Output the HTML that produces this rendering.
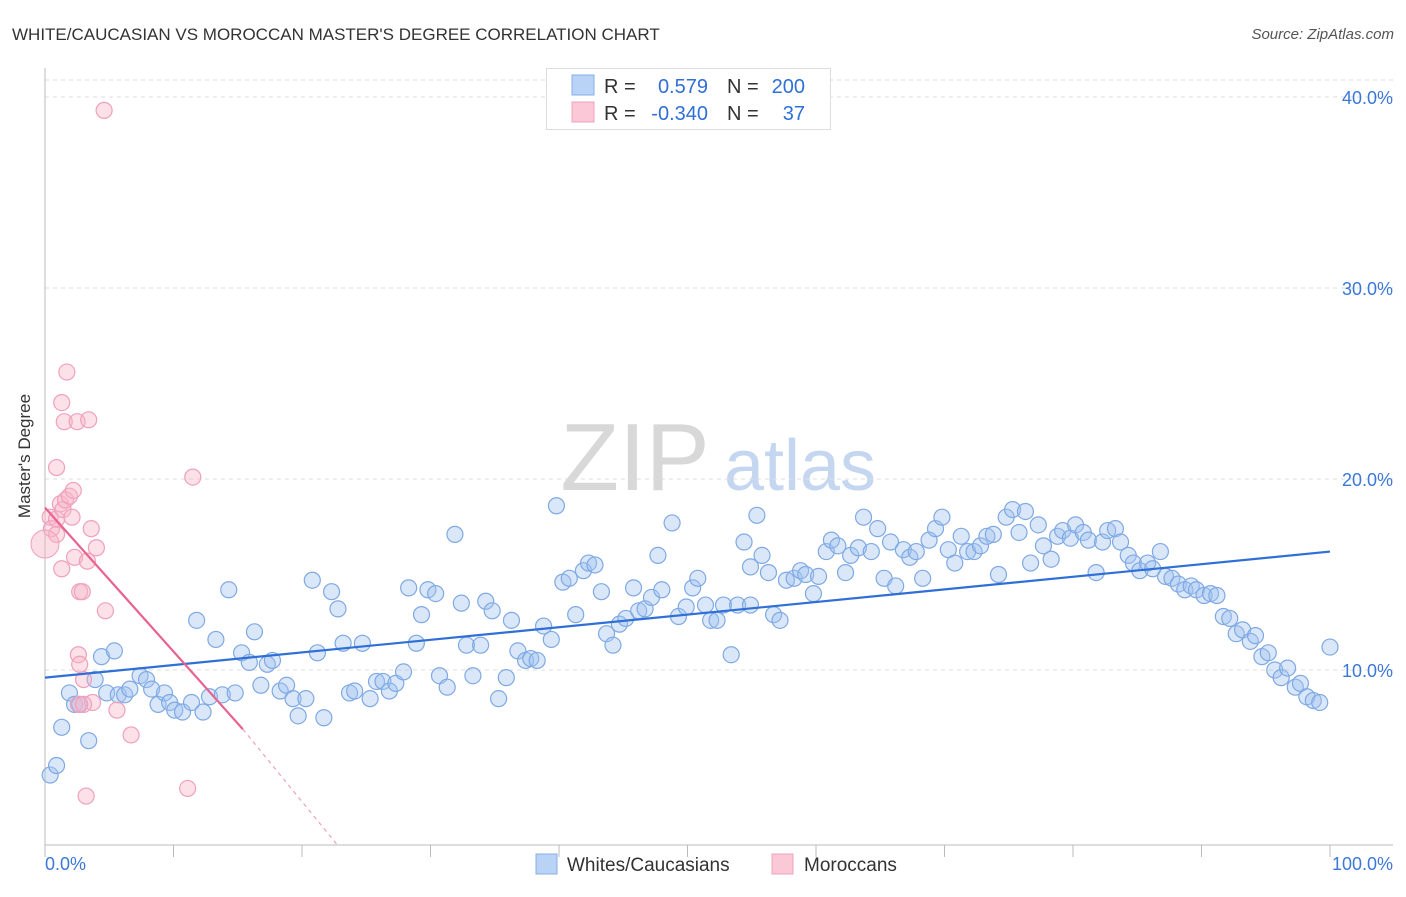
<!DOCTYPE html>
<html><head><meta charset="utf-8"><style>
body{margin:0;background:#fff;font-family:"Liberation Sans",sans-serif;}
svg text{font-family:"Liberation Sans",sans-serif;}
</style></head><body>
<svg id="chart" width="1406" height="892" viewBox="0 0 1406 892" xmlns="http://www.w3.org/2000/svg">
<text x="12" y="40" font-size="17" fill="#333">WHITE/CAUCASIAN VS MOROCCAN MASTER'S DEGREE CORRELATION CHART</text>
<text x="1394" y="39" font-size="15" fill="#555" text-anchor="end" font-style="italic">Source: ZipAtlas.com</text>
<text x="30" y="456" font-size="17" fill="#333" text-anchor="middle" transform="rotate(-90 30 456)">Master's Degree</text>
<g><text x="635" y="490" font-size="96" fill="#d8d8d8" font-family="Liberation Serif" text-anchor="middle">ZIP</text><text x="800" y="490" font-size="72" fill="#c5d7f0" text-anchor="middle">atlas</text></g>
<g id="grid"></g><g id="axes"></g><g id="pts"></g><g id="lines"></g>
<g>
<rect x="546.5" y="68.5" width="284" height="61" fill="#fff" stroke="#ddd"/>
<rect x="572" y="75" width="22" height="20" fill="#b8d3f5" stroke="#88aee6"/>
<rect x="572" y="102" width="22" height="20" fill="#fbc8d7" stroke="#f0a0bb"/>
<text x="604" y="93" font-size="20" fill="#333">R =</text><text x="708" y="93" font-size="20" fill="#2f6fd6" text-anchor="end">0.579</text>
<text x="727" y="93" font-size="20" fill="#333">N =</text><text x="805" y="93" font-size="20" fill="#2f6fd6" text-anchor="end">200</text>
<text x="604" y="120" font-size="20" fill="#333">R =</text><text x="708" y="120" font-size="20" fill="#2f6fd6" text-anchor="end">-0.340</text>
<text x="727" y="120" font-size="20" fill="#333">N =</text><text x="805" y="120" font-size="20" fill="#2f6fd6" text-anchor="end">37</text>
</g>
<g>
<rect x="536" y="854" width="21" height="20" fill="#b8d3f5" stroke="#88aee6"/>
<text x="567" y="871" font-size="19" fill="#333">Whites/Caucasians</text>
<rect x="772" y="854" width="21" height="20" fill="#fbc8d7" stroke="#f0a0bb"/>
<text x="804" y="871" font-size="19" fill="#333">Moroccans</text>
</g>
</svg>
<script>
const yTicks=[10,20,30,40];
const xTickLabels=["0.0%","100.0%"];
const blueX=[0.4,0.9,1.3,1.9,2.3,2.7,3.4,3.9,4.4,4.8,5.4,5.7,6.2,6.6,7.4,7.9,8.3,8.8,9.3,9.7,10.1,10.7,11.4,11.8,12.3,12.8,13.3,13.8,14.3,14.8,15.3,15.9,16.3,16.8,17.3,17.7,18.3,18.8,19.3,19.7,20.3,20.8,21.2,21.7,22.3,22.8,23.2,23.7,24.1,24.7,25.3,25.8,26.3,26.8,27.3,27.9,28.3,28.9,29.3,29.8,30.4,30.7,31.3,31.9,32.4,32.8,33.3,33.9,34.3,34.8,35.3,35.9,36.3,36.8,37.4,37.8,38.3,38.8,39.4,39.8,40.3,40.8,41.3,41.9,42.3,42.8,43.3,43.7,44.2,44.7,45.2,45.8,46.2,46.7,47.2,47.7,48.0,48.8,49.3,49.9,50.4,50.8,51.4,51.8,52.3,52.8,53.4,53.9,54.4,54.9,54.9,55.4,55.8,56.3,56.7,57.2,57.7,58.3,58.8,59.2,59.8,60.2,60.8,61.2,61.7,62.3,62.7,63.3,63.7,64.3,64.8,65.3,65.8,66.2,66.8,67.3,67.8,68.3,68.8,69.3,69.8,70.3,70.8,71.3,71.8,72.3,72.8,73.3,73.8,74.2,74.8,75.3,75.8,76.3,76.7,77.3,77.7,78.3,78.8,79.2,79.8,80.2,80.8,81.2,81.8,82.3,82.7,83.3,83.7,84.3,84.7,85.2,85.8,86.2,86.8,87.2,87.7,88.2,88.7,89.2,89.6,90.2,90.7,91.2,91.7,92.2,92.7,93.2,93.8,94.2,94.7,95.2,95.7,96.2,96.7,97.3,97.7,98.2,98.7,99.2,100];
const blueY=[4.5,5.0,7.0,8.8,8.2,8.2,6.3,9.5,10.7,8.8,11.0,8.7,8.7,9.0,9.7,9.5,9.0,8.2,8.8,8.3,7.9,7.8,8.3,12.6,7.8,8.6,11.6,8.7,14.2,8.8,10.9,10.4,12.0,9.2,10.3,10.5,8.9,9.2,8.5,7.6,8.5,14.7,10.9,7.5,14.1,13.2,11.4,8.8,8.9,11.4,8.5,9.4,9.4,8.9,9.3,9.9,14.3,11.4,12.9,14.2,14.0,9.7,9.1,17.1,13.5,11.3,9.7,11.3,13.6,13.1,8.5,9.6,12.6,11.0,10.5,10.6,10.5,12.3,11.6,18.6,14.6,14.8,12.9,15.2,15.6,15.5,14.1,11.9,11.3,12.4,12.7,14.3,13.1,13.2,13.8,16.0,14.2,17.7,12.8,13.3,14.3,14.8,13.4,12.6,12.6,13.4,10.8,13.4,16.7,13.4,15.4,18.1,16.0,15.1,12.9,12.6,14.7,14.8,15.2,15.0,14.0,14.9,16.2,16.8,16.5,15.1,16.0,16.4,18.0,16.2,17.4,14.8,16.7,14.4,16.3,15.9,16.2,14.8,16.8,17.4,18.0,16.3,15.6,17.0,16.2,16.2,16.5,17.0,17.1,15.0,18.0,18.4,17.2,18.3,15.6,17.6,16.5,15.8,17.0,17.3,16.9,17.6,17.2,16.8,15.1,16.7,17.3,17.4,16.7,16.0,15.6,15.2,15.6,15.3,16.2,14.9,14.8,14.5,14.2,14.4,14.2,13.9,14.0,13.9,12.8,12.7,11.9,12.1,11.5,11.8,10.7,10.9,10.0,9.6,10.1,9.1,9.3,8.6,8.4,8.3,11.2];
const pinkX=[0.4,0.5,0.9,0.9,1.2,1.4,0.9,1.3,1.5,1.7,1.6,1.9,2.2,2.1,2.3,2.5,2.7,2.6,2.9,3.0,3.3,3.4,3.6,3.7,4.0,4.7,2.6,2.7,5.6,6.7,3.2,11.1,11.5,4.6,1.3,3.0];
const pinkY=[18.0,17.4,17.1,17.9,18.7,18.4,20.6,24.0,23.0,25.6,18.9,19.1,19.4,18.0,15.9,23.0,14.1,8.2,14.1,9.5,15.7,23.1,17.4,8.3,16.4,13.1,10.8,10.3,7.9,6.6,3.4,3.8,20.1,39.3,15.3,8.2];
const pinkBig=[0,16.6];
const blueTrendX=[0,100], blueTrendY=[9.6,16.2];
const pinkTrendX=[0,15.4], pinkTrendY=[18.5,6.9];
const pinkDashX=[15.4,22.8], pinkDashY=[6.9,0.8];
const X=v=>45+v*12.85, Y=v=>861-v*19.1;
const NS="http://www.w3.org/2000/svg";
function mk(tag,parent,attrs){const e=document.createElementNS(NS,tag);for(const k in attrs)e.setAttribute(k,attrs[k]);document.getElementById(parent).appendChild(e);return e;}
mk('line','grid',{x1:45,x2:1393,y1:80,y2:80,stroke:'#ddd','stroke-dasharray':'4,4'});
yTicks.forEach(t=>{
 const g=mk('line','grid',{x1:45,x2:1393,y1:Y(t),y2:Y(t),stroke:'#ddd','stroke-dasharray':'4,4'});
 
 
 const tx=mk('text','axes',{x:1393,y:Y(t)+7,'font-size':18,fill:'#3b78d8','text-anchor':'end'});
 tx.textContent=t.toFixed(1)+'%';
 
 
});
const ya=mk('line','axes',{x1:45,x2:45,y1:68,y2:845,stroke:'#bbb'});


const xa=mk('line','axes',{x1:45,x2:1393,y1:845,y2:845,stroke:'#bbb'});


for(let k=0;k<=10;k++){const t=mk('line','axes',{x1:X(k*10),x2:X(k*10),y1:845,y2:857,stroke:'#bbb'});
 
 }
const l0=mk('text','axes',{x:45,y:870,'font-size':18,fill:'#3b78d8'});l0.textContent=xTickLabels[0];


const l1=mk('text','axes',{x:1393,y:870,'font-size':18,fill:'#3b78d8','text-anchor':'end'});l1.textContent=xTickLabels[1];


blueX.forEach((v,i)=>{const c=mk('circle','pts',{cx:X(v),cy:Y(blueY[i]),r:8,fill:'rgba(160,195,240,0.4)',stroke:'#7fa9e4','stroke-width':1.2});
 
 });
pinkX.forEach((v,i)=>{const c=mk('circle','pts',{cx:X(v),cy:Y(pinkY[i]),r:8,fill:'rgba(247,180,200,0.4)',stroke:'#f0a0bb','stroke-width':1.2});
 
 });
const big=mk('circle','pts',{cx:X(pinkBig[0]),cy:Y(pinkBig[1]),r:14,fill:'rgba(247,180,200,0.45)',stroke:'#f0a0bb'});


const bt=mk('line','lines',{x1:X(blueTrendX[0]),x2:X(blueTrendX[1]),y1:Y(blueTrendY[0]),y2:Y(blueTrendY[1]),stroke:'#2f6fd6','stroke-width':2.2});


const pt=mk('line','lines',{x1:X(pinkTrendX[0]),x2:X(pinkTrendX[1]),y1:Y(pinkTrendY[0]),y2:Y(pinkTrendY[1]),stroke:'#e8638f','stroke-width':2.2});


const pd=mk('line','lines',{x1:X(pinkDashX[0]),x2:X(pinkDashX[1]),y1:Y(pinkDashY[0]),y2:Y(pinkDashY[1]),stroke:'#f0a0bb','stroke-width':1.2,'stroke-dasharray':'4,4'});


</script>
</body></html>
